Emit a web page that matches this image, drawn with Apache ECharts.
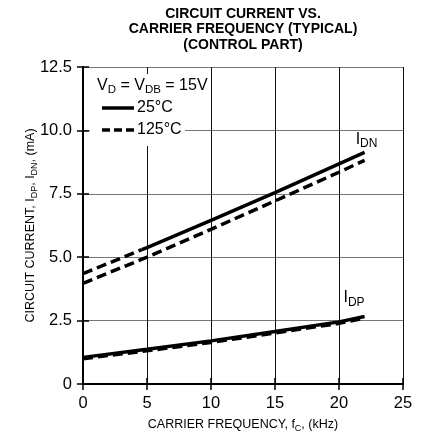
<!DOCTYPE html>
<html>
<head>
<meta charset="utf-8">
<script src="https://cdn.jsdelivr.net/npm/echarts@6/dist/echarts.min.js"></script>
<style>
html,body{margin:0;padding:0;background:#fff}
#main{width:426px;height:435px}
</style>
</head>
<body>
<div id="main"></div>
<script>
// data (x = carrier frequency kHz, y = current mA)
var idn25 = [[4.6, 5.3], [5, 5.38], [10, 6.45], [15, 7.55], [20, 8.68], [22, 9.13]];
var idn25Ext = [[0, 4.35], [4.6, 5.3]];
var idn125 = [[0, 3.97], [5, 5.0], [10, 6.1], [15, 7.22], [20, 8.35], [22, 8.82]];
var idp25 = [[0, 1.05], [5, 1.37], [10, 1.7], [15, 2.07], [20, 2.45], [22, 2.66]];
var idp125 = [[0, 1.0], [5, 1.31], [10, 1.64], [15, 2.01], [20, 2.39], [22, 2.6]];
var labelIdn = [21.3, 9.65];
var labelIdp = [20.35, 3.4];

var FONT = '"Liberation Sans", Arial, Helvetica, sans-serif';
var myChart = echarts.init(document.getElementById('main'));

function lineSeries(data, dashed) {
    return {
        type: 'line',
        data: data,
        showSymbol: false,
        silent: true,
        animation: false,
        lineStyle: {
            color: '#000',
            width: 3.5,
            type: dashed ? [10, 5] : 'solid'
        }
    };
}

var tickStyle = {show: true, inside: true, length: 6, lineStyle: {color: '#000', width: 1.5}};
var lineAxis = {show: true, lineStyle: {color: '#000', width: 2}};
var nameRich = {
    n: {fontSize: 12.5, fontFamily: FONT, color: '#000'},
    s: {fontSize: 9, fontFamily: FONT, color: '#000', padding: [7, 0, 0, 0]}
};

var option = {
    animation: false,
    grid: {left: 83, right: 23, top: 67, bottom: 51, outerBoundsMode: 'none', containLabel: false},
    xAxis: [{
        type: 'value', min: 0, max: 25, interval: 5,
        axisLine: lineAxis,
        axisTick: tickStyle,
        axisLabel: {color: '#000', fontSize: 16.5, fontFamily: FONT, margin: 11},
        splitLine: {show: true, lineStyle: {color: '#111', width: 1}},
        name: '{n|CARRIER FREQUENCY, f}{s|C}{n|, (kHz)}',
        nameLocation: 'middle',
        nameGap: 33,
        nameMoveOverlap: false,
        nameTextStyle: {rich: nameRich}
    }, {
        type: 'value', min: 0, max: 25, interval: 5, position: 'top',
        axisLine: lineAxis, axisTick: tickStyle,
        axisLabel: {show: false}, splitLine: {show: false}
    }],
    yAxis: [{
        type: 'value', min: 0, max: 12.5, interval: 2.5,
        axisLine: lineAxis,
        axisTick: tickStyle,
        axisLabel: {
            color: '#000', fontSize: 16.5, fontFamily: FONT, margin: 11,
            formatter: function (v) { return v === 0 ? '0' : v.toFixed(1); }
        },
        splitLine: {show: true, lineStyle: {color: '#777', width: 1}},
        name: '{n|CIRCUIT CURRENT, I}{s|DP}{n|, I}{s|DN}{n|, (mA)}',
        nameLocation: 'middle',
        nameGap: 44,
        nameMoveOverlap: false,
        nameRotate: 90,
        nameTextStyle: {rich: nameRich}
    }, {
        type: 'value', min: 0, max: 12.5, interval: 2.5, position: 'right',
        axisLine: lineAxis, axisTick: tickStyle,
        axisLabel: {show: false}, splitLine: {show: false}
    }],
    series: [
        lineSeries(idn25, false),
        lineSeries(idn25Ext, true),
        lineSeries(idn125, true),
        lineSeries(idp125, true),
        lineSeries(idp25, false)
    ]
};
myChart.setOption(option);

// curve labels and legend box
var pDn = myChart.convertToPixel({gridIndex: 0}, labelIdn);
var pDp = myChart.convertToPixel({gridIndex: 0}, labelIdp);
var richLbl = {
    n: {fontSize: 16, fontFamily: FONT, color: '#000'},
    s: {fontSize: 12, fontFamily: FONT, color: '#000', padding: [9, 0, 0, 0]}
};
var richLeg = {
    n: {fontSize: 16, fontFamily: FONT, color: '#000'},
    s: {fontSize: 11.5, fontFamily: FONT, color: '#000', padding: [8, 0, 0, 0]}
};

myChart.setOption({
    graphic: [
        {
            type: 'text', x: 243, y: 6,
            style: {
                text: 'CIRCUIT CURRENT VS.\nCARRIER FREQUENCY (TYPICAL)\n(CONTROL PART)',
                align: 'center',
                font: 'bold 14px ' + FONT, lineHeight: 15.5, fill: '#000'
            }
        },
        {type: 'rect', x: 90, y: 74, z: 100, shape: {width: 95, height: 72}, style: {fill: '#fff'}},
        {
            type: 'text', x: 96, y: 74, z: 101,
            style: {
                text: '{n|V}{s|D}{n| = V}{s|DB}{n| = 15V}', rich: richLeg,
                backgroundColor: '#fff', padding: [2, 3, 3, 1]
            }
        },
        {type: 'line', z: 101, shape: {x1: 102, y1: 108, x2: 134, y2: 108}, style: {stroke: '#000', lineWidth: 3.5}},
        {type: 'text', x: 137, y: 108, z: 101, style: {text: '25°C', font: '16px ' + FONT, fill: '#000', verticalAlign: 'middle'}},
        {type: 'line', z: 101, shape: {x1: 102, y1: 130, x2: 134, y2: 130}, style: {stroke: '#000', lineWidth: 3.5, lineDash: [8, 4]}},
        {type: 'text', x: 137, y: 130, z: 101, style: {text: '125°C', font: '16px ' + FONT, fill: '#000', verticalAlign: 'middle'}},
        {
            type: 'text', x: pDn[0], y: pDn[1], z: 101,
            style: {text: '{n|I}{s|DN}', rich: richLbl, verticalAlign: 'middle'}
        },
        {
            type: 'text', x: pDp[0], y: pDp[1], z: 101,
            style: {text: '{n|I}{s|DP}', rich: richLbl, verticalAlign: 'middle'}
        }
    ]
});
</script>
</body>
</html>
